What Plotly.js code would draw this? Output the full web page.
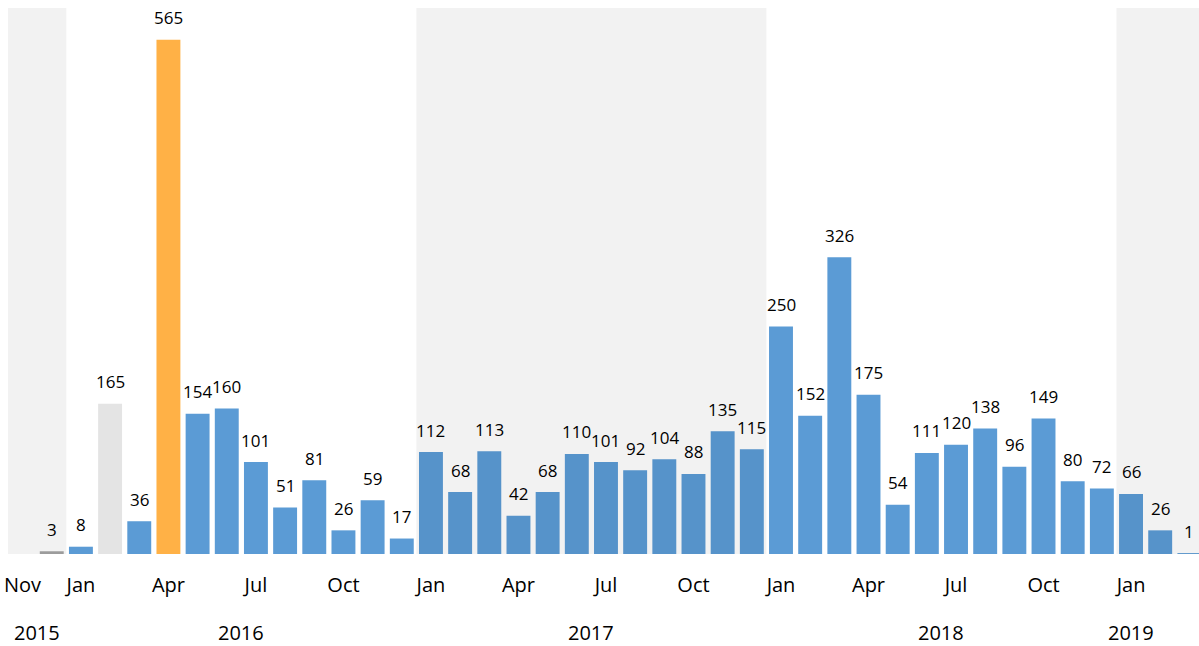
<!DOCTYPE html>
<html><head><meta charset="utf-8">
<script src="https://cdn.plot.ly/plotly-3.0.1.min.js"></script>
<style>html,body{margin:0;padding:0;background:#fff;}#chart{width:1199px;height:646px;}</style>
</head><body><div id="chart"></div>
<script>
const months = ["Nov","Dec","Jan","Feb","Mar","Apr","May","Jun","Jul","Aug","Sep","Oct","Nov","Dec",
"Jan","Feb","Mar","Apr","May","Jun","Jul","Aug","Sep","Oct","Nov","Dec",
"Jan","Feb","Mar","Apr","May","Jun","Jul","Aug","Sep","Oct","Nov","Dec",
"Jan","Feb","Mar"];
const values = [null,3,8,165,36,565,154,160,101,51,81,26,59,17,
112,68,113,42,68,110,101,92,104,88,135,115,
250,152,326,175,54,111,120,138,96,149,80,72,
66,26,1];
const kinds = ["n","gray","blue","light","blue","orange","blue","blue","blue","blue","blue","blue","blue","blue",
"blue","blue","blue","blue","blue","blue","blue","blue","blue","blue","blue","blue",
"blue","blue","blue","blue","blue","blue","blue","blue","blue","blue","blue","blue",
"blue","blue","blue"];
const tickMonths = ["Jan","Apr","Jul","Oct"];
const years = ["2015","2016","2017","2018","2019"];
const yearStart = [0,2,14,26,38];
const yearEnd = [1,13,25,37,40];
const yearLabelPos = [0.5,7.5,19.5,31.5,38];
const shadedYears = ["2015","2017","2019"];

const palette = {blue:"#5B9BD5", orange:"#FFB146", gray:"#A5A5A5", light:"#E4E4E4", n:"#ffffff"};
const xs = months.map((m,i)=>i);
const colors = kinds.map(k=>palette[k]);

const tickvals = [], ticktext = [];
months.forEach((m,i)=>{ if(i===0 || tickMonths.includes(m)){tickvals.push(i);ticktext.push(m);} });

const shapes = [];
years.forEach((y,i)=>{
  if(shadedYears.includes(y)){
    shapes.push({type:"rect",xref:"x",yref:"paper",x0:yearStart[i]-0.5,x1:yearEnd[i]+0.5,y0:0,y1:1,
      fillcolor:"rgba(0,0,0,0.05)",line:{width:0},layer:"above"});
  }
});
const annotations = [];
values.forEach((v,i)=>{
  if(v!==null){
    annotations.push({x:i,y:v,xref:"x",yref:"y",text:String(v),showarrow:false,yanchor:"middle",yshift:22,
      font:{family:"Open Sans",size:17,color:"#000"}});
  }
});
years.forEach((y,i)=>{
  annotations.push({x:yearLabelPos[i],y:-0.143,xref:"x",yref:"paper",text:y,showarrow:false,yanchor:"middle",
    font:{family:"Open Sans",size:20,color:"#000"}});
});

const trace = {type:"bar",x:xs,y:values,marker:{color:colors,line:{width:0}},hoverinfo:"skip",cliponaxis:true};
const layout = {
  width:1199,height:646,
  margin:{l:8,r:0,t:8,b:92},
  paper_bgcolor:"#fff",plot_bgcolor:"#fff",
  bargap:0.18,showlegend:false,
  xaxis:{range:[-0.5,40.33],tickvals:tickvals,ticktext:ticktext,showgrid:false,zeroline:false,showline:false,
    ticks:"",tickangle:0,ticklabelstandoff:17,tickfont:{family:"Open Sans",size:20,color:"#000"},fixedrange:true},
  yaxis:{range:[0,600],visible:false,showgrid:false,zeroline:false,fixedrange:true},
  shapes:shapes,annotations:annotations
};
Plotly.newPlot("chart",[trace],layout,{staticPlot:true,displayModeBar:false});
</script></body></html>
